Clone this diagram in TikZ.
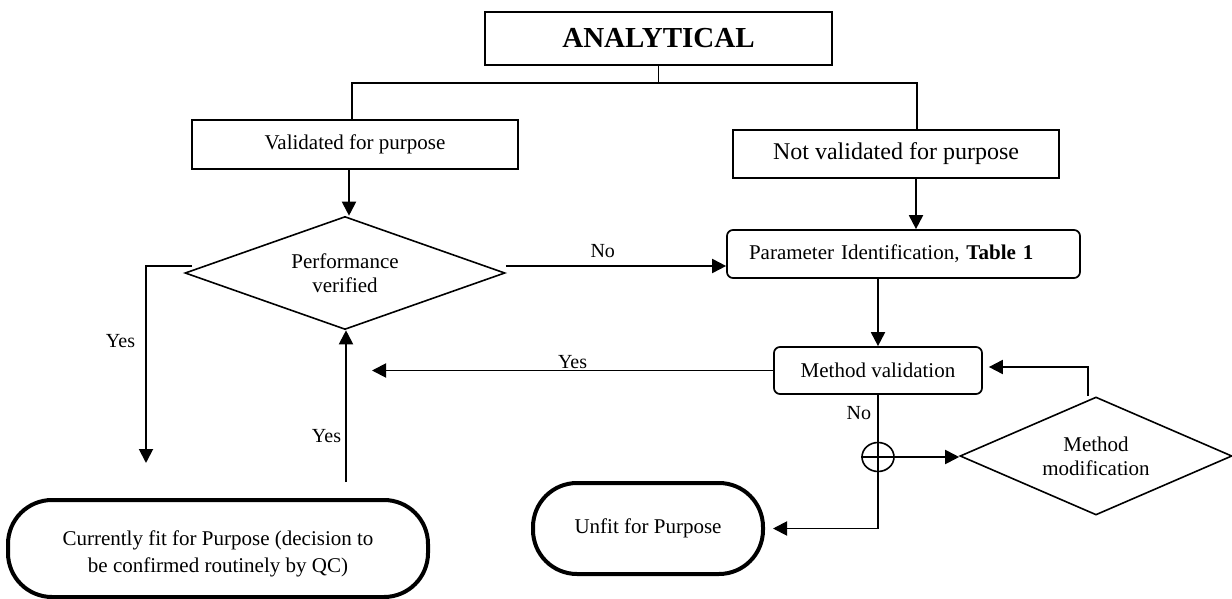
\documentclass[tikz,border=0pt]{standalone}
\usepackage{fontspec}
\setmainfont{Liberation Serif}
\usetikzlibrary{shapes.geometric,arrows.meta}
\begin{document}
\begin{tikzpicture}[x=0.5pt,y=-0.5pt,
  txt/.style={font=\fontsize{10.5}{12}\selectfont},
  ln/.style={line width=0.95pt},
  arr/.style={line width=0.95pt,-{Triangle[length=7pt,width=7pt]}},
  sq/.style={draw,line width=1pt,inner sep=0pt,txt},
  rbox/.style={draw,rounded corners=3pt,line width=0.85pt,inner sep=0pt,txt},
  dia/.style={draw,diamond,inner sep=0pt,line width=0.8pt,txt,align=center},
  term/.style={draw,line width=2pt,rounded corners=22pt,inner sep=0pt,txt,align=center},
  lab/.style={font=\fontsize{10}{12}\selectfont,inner sep=0pt}]
\useasboundingbox (0,0) rectangle (1232,599);

% nodes
\node[sq,minimum width=173.5pt,minimum height=26.5pt,font=\fontsize{14.5}{17}\selectfont\bfseries] (top) at (658.5,38.5) {ANALYTICAL};
\node[sq,minimum width=163pt,minimum height=24.5pt] (val) at (355,144.5) {Validated for purpose};
\node[sq,minimum width=163pt,minimum height=24pt,font=\fontsize{12}{14}\selectfont] (notval) at (896,154) {Not validated for purpose};
\node[rbox,minimum width=176.5pt,minimum height=24pt,text width=154.5pt,align=left] (param) at (903.5,254) {Parameter Identification, \textbf{Table 1}};
\node[rbox,minimum width=104pt,minimum height=23.5pt] (mv) at (878,370.5) {Method validation};
\node[dia,aspect=2.83,minimum width=160pt,minimum height=56.5pt] (pv) at (345,273) {Performance\\verified};
\node[dia,aspect=2.3,minimum width=136pt,minimum height=59pt] (mm) at (1096,456) {Method\\modification};
\node[term,minimum width=210pt,minimum height=48.5pt] (fit) at (218,548.5) {};
\node[txt,align=center,font=\fontsize{10.5}{13.5}\selectfont,inner sep=0pt] (fittext) at (218,554) {Currently fit for Purpose (decision to\\be confirmed routinely by QC)};
\node[term,minimum width=115pt,minimum height=45.5pt] (unfit) at (648,528.5) {Unfit for Purpose};
\node[draw,ellipse,minimum width=16pt,minimum height=14.5pt,inner sep=0pt,line width=0.8pt] (op) at (878,457) {};

% free ends
\coordinate (yesL) at (146,463);
\coordinate (yesU) at (346,482);
\coordinate (yesT) at (372,370.5);

% connectors
\draw[ln] (top.south) -- (top.south |- 0,83);
\draw[ln] ([xshift=-1.5pt]val.north) |- ([xshift=10.5pt]notval.north |- 0,83) -- ([xshift=10.5pt]notval.north);
\draw[arr] ([xshift=-3pt]val.south) -- ([xshift=-3pt]val.south |- pv.north);
\draw[arr] ([xshift=10pt]notval.south) -- ([xshift=10pt]notval.south |- param.north);
\draw[arr] ([yshift=3.5pt]pv.east) -- node[lab,pos=0.44,above=3.5pt] {No} ([yshift=3.5pt]pv.east -| param.west);
\draw[arr] ([shift={(8,-7)}]pv.west) -| node[lab,pos=0.69,left=5pt] {Yes} (yesL);
\draw[arr] (yesU) -- node[lab,pos=0.3,left=2pt] {Yes} (yesU |- pv.south);
\draw[arr] (mv.north |- param.south) -- (mv.north);
\draw[arr] (mv.west) -- node[lab,anchor=base,pos=0.5,yshift=1pt] {Yes} (yesT);
\draw[arr] ([xshift=-4pt]mm.north) |- ([xshift=3pt,yshift=1.75pt]mv.east);
\draw[arr] (mv.south) -- node[lab,pos=0.38,left=3pt] {No} (op.north) -- (op.south) |- ([xshift=4pt]unfit.east);
\draw[ln] (op.west) -- (op.east);
\draw[arr] (op.east) -- (op.east -| mm.west);
\end{tikzpicture}
\end{document}
